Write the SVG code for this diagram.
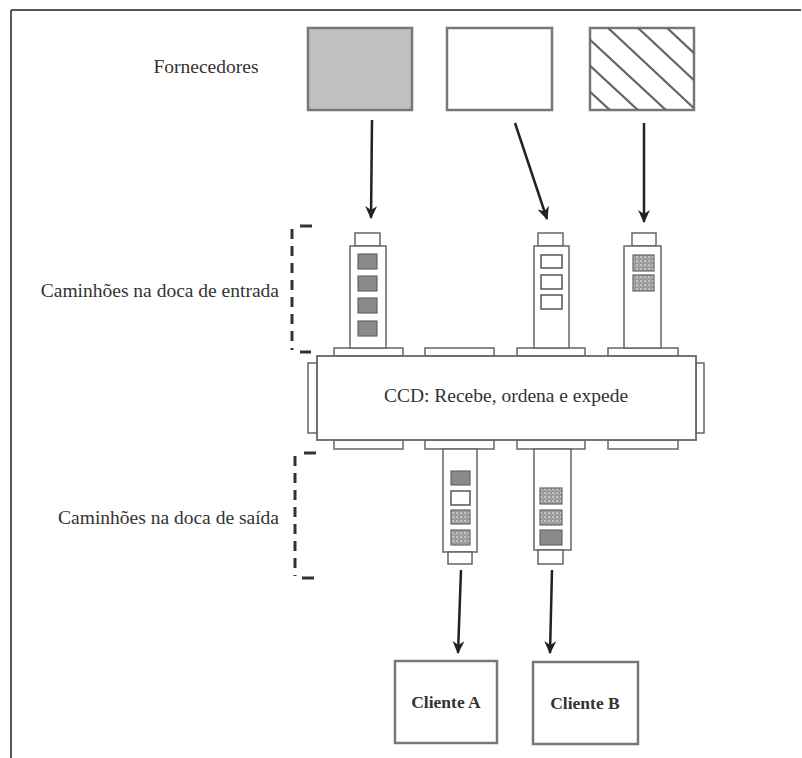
<svg xmlns="http://www.w3.org/2000/svg" width="802" height="758" viewBox="0 0 802 758">
<style>
.lbl{font-family:'Liberation Serif','Times New Roman',serif;font-size:19.5px;fill:#333}
.cli{font-family:'Liberation Serif','Times New Roman',serif;font-size:17.5px;font-weight:bold;fill:#333}
.box{fill:#fff;stroke:#777;stroke-width:2.5}
.truck{fill:#fff;stroke:#666;stroke-width:1.5}
.slab{fill:#fff;stroke:#666;stroke-width:1.5}
.cg{fill:#8a8a8a;stroke:#666;stroke-width:1.2}
.cw{fill:#fff;stroke:#555;stroke-width:1.5}
.cd{fill:url(#stip);stroke:#666;stroke-width:1.2}
.hat{stroke:#666;stroke-width:2.2;fill:none}
.arrow{stroke:#222;stroke-width:2.5;fill:none;marker-end:url(#ah)}
.brk{stroke:#333;stroke-width:3;fill:none}
</style>
<defs>
<marker id="ah" viewBox="0 0 12 12" markerUnits="userSpaceOnUse" markerWidth="13" markerHeight="13" refX="11" refY="6" orient="auto">
<path d="M0,0.5 L12,6 L0,11.5 L3.5,6 z" fill="#222"/>
</marker>
<pattern id="stip" width="4" height="4" patternUnits="userSpaceOnUse">
<rect width="4" height="4" fill="#9a9a9a"/>
<rect x="0" y="0" width="2" height="2" fill="#c4c4c4"/>
<rect x="2" y="2" width="1" height="1" fill="#bdbdbd"/>
</pattern>
<clipPath id="hclip"><rect x="590" y="28" width="104" height="82"/></clipPath>
</defs>
<rect width="802" height="758" fill="#fff"/>
<g id="frame" stroke="#555" stroke-width="2" fill="none">
<line x1="11" y1="10" x2="801" y2="10"/>
<line x1="11" y1="10" x2="11" y2="758"/>
</g>

<g id="label-fornecedores"><text class="lbl" x="206" y="73" text-anchor="middle">Fornecedores</text></g>
<g id="label-entrada"><text class="lbl" x="279" y="297" text-anchor="end">Caminhões na doca de entrada</text></g>
<g id="label-saida"><text class="lbl" x="279" y="524" text-anchor="end">Caminhões na doca de saída</text></g>

<g id="bracket-entrada" class="brk">
<line x1="292" y1="229" x2="292" y2="350" stroke-dasharray="10,7"/>
<line x1="300" y1="226" x2="312" y2="226"/>
<line x1="300" y1="352" x2="311" y2="352"/>
</g>
<g id="bracket-saida" class="brk">
<line x1="295" y1="456" x2="295" y2="576" stroke-dasharray="10,7"/>
<line x1="304" y1="453" x2="316" y2="453"/>
<line x1="302" y1="578" x2="314" y2="578"/>
</g>

<g id="supplier-gray"><rect x="308" y="28" width="104" height="82" fill="#c0c0c0" stroke="#777" stroke-width="2.5"/></g>
<g id="supplier-white"><rect class="box" x="447" y="28" width="105" height="82"/></g>
<g id="supplier-hatched">
<rect class="box" x="590" y="28" width="104" height="82"/>
<g clip-path="url(#hclip)" class="hat">
<line x1="588" y1="90" x2="612" y2="112"/>
<line x1="588" y1="64" x2="640" y2="112"/>
<line x1="588" y1="38" x2="668" y2="112"/>
<line x1="606" y1="26" x2="696" y2="110"/>
<line x1="636" y1="26" x2="696" y2="82"/>
<line x1="665" y1="26" x2="696" y2="55"/>
</g>
</g>

<g id="ccd">
<rect class="slab" x="334" y="348" width="69" height="8"/>
<rect class="slab" x="425" y="348" width="69" height="8"/>
<rect class="slab" x="517" y="348" width="68" height="8"/>
<rect class="slab" x="608" y="348" width="70" height="8"/>
<rect class="slab" x="334" y="440" width="69" height="9"/>
<rect class="slab" x="425" y="440" width="69" height="9"/>
<rect class="slab" x="517" y="440" width="68" height="9"/>
<rect class="slab" x="608" y="440" width="70" height="9"/>
<rect class="slab" x="308" y="363" width="9" height="70"/>
<rect class="slab" x="696" y="363" width="8" height="70"/>
<rect x="317" y="356" width="379" height="84" fill="#fff" stroke="#666" stroke-width="1.8"/>
<text class="lbl" x="506" y="402" text-anchor="middle">CCD: Recebe, ordena e expede</text>
</g>

<g id="truck-in-1">
<rect class="truck" x="355" y="233" width="25" height="13"/>
<rect class="truck" x="350" y="246" width="36" height="102"/>
<rect class="cg" x="358" y="254" width="19" height="15"/>
<rect class="cg" x="358" y="276" width="19" height="15"/>
<rect class="cg" x="358" y="298" width="19" height="15"/>
<rect class="cg" x="358" y="321" width="19" height="15"/>
</g>
<g id="truck-in-2">
<rect class="truck" x="538" y="233" width="25" height="13"/>
<rect class="truck" x="534" y="246" width="35" height="102"/>
<rect class="cw" x="541" y="255" width="21" height="13"/>
<rect class="cw" x="541" y="275" width="21" height="14"/>
<rect class="cw" x="541" y="295" width="21" height="14"/>
</g>
<g id="truck-in-3">
<rect class="truck" x="632" y="233" width="24" height="13"/>
<rect class="truck" x="624" y="246" width="37" height="102"/>
<rect class="cd" x="633" y="255" width="21" height="16"/>
<rect class="cd" x="633" y="275" width="21" height="16"/>
</g>

<g id="truck-out-1">
<rect class="truck" x="443" y="449" width="34" height="103"/>
<rect class="truck" x="448" y="552" width="24" height="12"/>
<rect class="cg" x="451" y="471" width="19" height="14"/>
<rect class="cw" x="451" y="491" width="19" height="14"/>
<rect class="cd" x="451" y="510" width="19" height="14"/>
<rect class="cd" x="451" y="530" width="19" height="15"/>
</g>
<g id="truck-out-2">
<rect class="truck" x="534" y="449" width="37" height="101"/>
<rect class="truck" x="538" y="550" width="25" height="14"/>
<rect class="cd" x="540" y="488" width="22" height="16"/>
<rect class="cd" x="540" y="510" width="22" height="15"/>
<rect class="cg" x="540" y="530" width="22" height="15"/>
</g>

<g id="cliente-a">
<rect class="box" x="395" y="661" width="102" height="82" stroke="#666" stroke-width="2"/>
<text class="cli" x="446" y="708" text-anchor="middle">Cliente A</text>
</g>
<g id="cliente-b">
<rect class="box" x="533" y="662" width="105" height="82" stroke="#666" stroke-width="2"/>
<text class="cli" x="585" y="709" text-anchor="middle">Cliente B</text>
</g>

<g id="connectors">
<line class="arrow" x1="372" y1="120" x2="371" y2="218"/>
<line class="arrow" x1="515" y1="123" x2="547" y2="219"/>
<line class="arrow" x1="644" y1="123" x2="644" y2="222"/>
<line class="arrow" x1="461" y1="570" x2="458" y2="653"/>
<line class="arrow" x1="552" y1="570" x2="550" y2="653"/>
</g>
</svg>
